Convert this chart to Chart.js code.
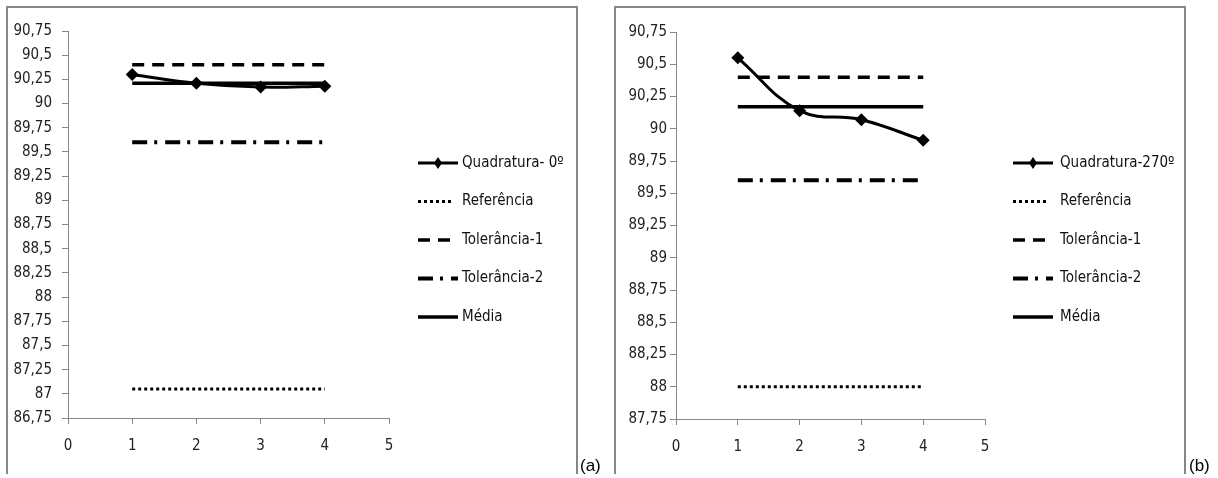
<!DOCTYPE html>
<html><head><meta charset="utf-8">
<script src="https://cdn.jsdelivr.net/npm/chart.js@4.4.0/dist/chart.umd.min.js"></script>
<style>
html,body{margin:0;padding:0;background:#fff;width:1218px;height:478px;overflow:hidden;position:relative;}
.frame{position:absolute;border:2px solid #868686;border-bottom:none;box-sizing:border-box;}
.cv{position:absolute;top:0;}
.lbl{position:absolute;font-family:"Liberation Sans",Arial,sans-serif;font-size:17px;color:#000;line-height:1;}
</style></head><body>
<div class="frame" style="left:6px;top:6px;width:572px;height:468px"></div>
<div class="frame" style="left:614px;top:6px;width:572px;height:468px"></div>
<div class="cv" style="left:0;width:600px;height:478px"><canvas id="c1" width="600" height="478"></canvas></div>
<div class="cv" style="left:610px;width:600px;height:478px"><canvas id="c2" width="600" height="478"></canvas></div>
<div class="lbl" style="left:580px;top:457px">(a)</div>
<div class="lbl" style="left:1189px;top:457px">(b)</div>
<script>
// ---- data ----
const xCats = [1, 2, 3, 4];
const xTickLabels = ['0', '1', '2', '3', '4', '5'];
const seriesLabelsA = ['Quadratura- 0º', 'Referência', 'Tolerância-1', 'Tolerância-2', 'Média'];
const seriesLabelsB = ['Quadratura-270º', 'Referência', 'Tolerância-1', 'Tolerância-2', 'Média'];
const quadA = [90.30, 90.21, 90.17, 90.18];
const refA = [87.05, 87.05, 87.05, 87.05];
const tol1A = [90.40, 90.40, 90.40, 90.40];
const tol2A = [89.60, 89.60, 89.60, 89.60];
const mediaA = [90.21, 90.21, 90.21, 90.21];
const quadB = [90.55, 90.14, 90.07, 89.91];
const refB = [88.00, 88.00, 88.00, 88.00];
const tol1B = [90.40, 90.40, 90.40, 90.40];
const tol2B = [89.60, 89.60, 89.60, 89.60];
const mediaB = [90.17, 90.17, 90.17, 90.17];
const yRangeA = [86.75, 90.75];
const yRangeB = [87.75, 90.75];
const yStep = 0.25;

const FONT = '"DejaVu Sans Condensed","Liberation Sans",sans-serif';
const AX = '#868686';

function pts(vals){ return vals.map((v,i)=>({x:xCats[i], y:v})); }
function fmt(v){ return Number(v.toFixed(2)).toString().replace('.', ','); }

const legendPlugin = {
  id: 'customLegend',
  afterDraw(chart, args, o){
    const ctx = chart.ctx;
    chart.data.datasets.forEach((ds, i) => {
      const y = o.y0 + i * o.dy;
      ctx.save();
      ctx.strokeStyle = '#000';
      ctx.lineWidth = ds.borderWidth;
      ctx.setLineDash(ds.borderDash || []);
      ctx.beginPath(); ctx.moveTo(o.x0, y); ctx.lineTo(o.x0 + (ds.legendW || o.w), y); ctx.stroke();
      if (ds.pointRadius > 0) {
        ctx.setLineDash([]);
        const cx = o.x0 + o.w / 2, r = 5;
        ctx.fillStyle = '#000';
        ctx.beginPath(); ctx.moveTo(cx, y - r - 1); ctx.lineTo(cx + r - 1, y); ctx.lineTo(cx, y + r + 1); ctx.lineTo(cx - r + 1, y); ctx.closePath(); ctx.fill();
      }
      ctx.fillStyle = '#111';
      ctx.font = '15px ' + FONT;
      ctx.textBaseline = 'middle';
      ctx.fillText(ds.label, o.tx, y);
      ctx.restore();
    });
  }
};

function makeChart(id, labels, quad, ref, tol1, tol2, media, yr, pad, yw, ylabPad, leg){
  return new Chart(document.getElementById(id), {
    type: 'line',
    data: {
      datasets: [
        {label: labels[0], data: pts(quad), borderColor:'#000', backgroundColor:'#000', borderWidth:3, tension:0.4,
         pointStyle:'rectRot', pointRadius:6.5, pointBackgroundColor:'#000', pointBorderColor:'#000', pointBorderWidth:0},
        {label: labels[1], data: pts(ref), borderColor:'#000', borderWidth:3, borderDash:[3,3], pointRadius:0, legendW:36},
        {label: labels[2], data: pts(tol1), borderColor:'#000', borderWidth:3.5, borderDash:[12,8], pointRadius:0, legendW:34},
        {label: labels[3], data: pts(tol2), borderColor:'#000', borderWidth:4, borderDash:[15,7,3,8], pointRadius:0},
        {label: labels[4], data: pts(media), borderColor:'#000', borderWidth:3.5, pointRadius:0}
      ]
    },
    options: {
      responsive:false, animation:false, events:[],
      layout:{padding:pad},
      plugins:{legend:{display:false}, tooltip:{enabled:false}, customLegend:leg},
      scales:{
        x:{type:'linear', min:0, max:5,
           ticks:{stepSize:1, color:'#222', font:{family:FONT, size:15}, padding:13, callback:(v)=>xTickLabels[Math.round(v)]},
           grid:{display:true, drawOnChartArea:false, drawTicks:true, tickLength:6, color:AX},
           border:{color:AX, width:1},
           afterFit:(s)=>{ s.height = 40; }},
        y:{type:'linear', min:yr[0], max:yr[1],
           ticks:{stepSize:yStep, autoSkip:false, color:'#222', font:{family:FONT, size:15}, padding:ylabPad, callback:(v)=>fmt(v)},
           grid:{display:true, drawOnChartArea:false, drawTicks:true, tickLength:6, color:AX},
           border:{color:AX, width:1},
           afterFit:(s)=>{ s.width = yw; }}
      }
    },
    plugins:[legendPlugin]
  });
}

makeChart('c1', seriesLabelsA, quadA, refA, tol1A, tol2A, mediaA, yRangeA,
  {left:0, right:211, top:31, bottom:20}, 68, 10, {x0:418, w:40, tx:462, y0:163, dy:38.5});
makeChart('c2', seriesLabelsB, quadB, refB, tol1B, tol2B, mediaB, yRangeB,
  {left:0, right:225, top:32, bottom:19}, 66, 3, {x0:403, w:40, tx:450, y0:163, dy:38.5});
</script>
</body></html>
